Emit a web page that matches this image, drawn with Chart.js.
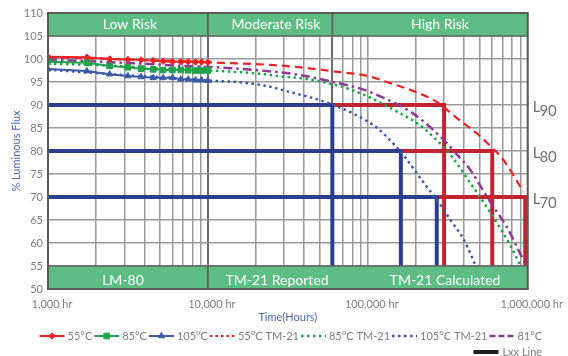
<!DOCTYPE html>
<html>
<head>
<meta charset="utf-8">
<script src="https://cdn.jsdelivr.net/npm/chart.js@4.4.1/dist/chart.umd.min.js"></script>
<style>
html,body{margin:0;padding:0;background:#fff;}
#wrap{width:568px;height:356px;}
</style>
</head>
<body>
<div id="wrap"><canvas id="c" width="568" height="356"></canvas></div>
<script>
// ---------- data ----------
const hoursLM = [1000, 1750, 2430, 3160, 3820, 4550, 5250, 6000, 6770, 7530, 8380, 9140, 10000];
const flux55  = [100.5, 100.4, 100.0, 99.9, 99.8, 99.7, 99.5, 99.4, 99.4, 99.4, 99.35, 99.35, 99.3];
const flux85  = [99.4, 99.2, 98.5, 98.2, 97.9, 97.75, 97.6, 97.6, 97.6, 97.55, 97.5, 97.5, 97.5];
const flux105 = [97.8, 97.4, 96.7, 96.3, 96.1, 95.9, 95.9, 95.9, 95.6, 95.6, 95.4, 95.4, 95.3];

const hours55TM = [1000, 3000, 10000, 30400, 65100, 100000, 139500, 204500, 272000, 362000, 482000, 612000, 690000, 940000];
const flux55TM  = [100.4, 99.9, 99.3, 98.5, 97.2, 96.3, 94.7, 92.7, 90.6, 87.1, 83.8, 80.4, 78.5, 71.2];

const hours85TM = [1000, 2400, 5000, 10000, 19800, 28900, 42400, 65100, 90800, 115400, 153600, 204500, 265500, 337000, 438000, 531000, 641000, 776000, 896000];
const flux85TM  = [99.0, 98.6, 97.9, 97.5, 96.9, 96.2, 95.6, 94.2, 92.5, 90.8, 88.5, 86.0, 82.6, 78.7, 73.0, 68.8, 64.4, 59.6, 55.2];

const hours105TM = [1000, 3000, 6000, 10000, 14900, 22800, 31900, 42400, 59200, 82600, 100000, 115400, 153600, 169000, 224800, 272000, 329000, 399000, 471000];
const flux105TM  = [97.7, 96.5, 95.9, 95.3, 95.0, 94.2, 92.9, 91.8, 90.2, 88.0, 86.4, 84.9, 80.6, 78.9, 73.0, 69.3, 65.0, 60.7, 55.2];

const hours81 = [1000, 4300, 6900, 11200, 19800, 35000, 68200, 93100, 121000, 185800, 285300, 379700, 438000, 531000, 641000, 740600, 854600, 961000];
const flux81  = [99.9, 98.9, 98.5, 98.2, 97.6, 96.7, 94.6, 93.4, 91.8, 88.5, 83.1, 78.4, 75.9, 71.2, 66.8, 63.5, 59.2, 55.6];

// Lxx boxes: level, hour where 105°C reaches it, hour where 55°C reaches it
const lxxLevels   = [90, 80, 70];
const lxxHours105 = [60000, 161000, 270000];
const lxxHours55  = [300000, 600000, 965000];
const lxxFloor = 55;

const xTickDecades = [1000, 10000, 100000, 1000000];
const xTickLabels  = ['1,000 hr', '10,000 hr', '100,000 hr', '1,000,000 hr'];
const yTicks = {min: 50, max: 110, step: 5};

const topBandLabels    = ['Low Risk', 'Moderate Risk', 'High Risk'];
const bottomBandLabels = ['LM-80', 'TM-21 Reported', 'TM-21 Calculated'];
const bandBounds = [10000, 60000];

// ---------- styles ----------
const RED = '#ec2227', GREEN = '#1fa34a', BLUE = '#3d5aa8', PURPLE = '#8b3a96';
const LBLUE = '#2b3d8f', LRED = '#c1232f';
const BAND = '#5dbd84';
const TXT = '#7d7d7d';
const TITLE_BLUE = '#4a69a9';
const FONT = 'Lato, "Open Sans", sans-serif';

const pts = (xs, ys) => xs.map((x, i) => ({x, y: ys[i]}));

const datasets = [
  {label: '55°C', data: pts(hoursLM, flux55), borderColor: RED, backgroundColor: RED, borderWidth: 2,
   pointStyle: 'rectRot', pointRadius: 3.2, pointBackgroundColor: RED, pointBorderColor: RED, pointBorderWidth: 1, inLegend: true},
  {label: '85°C', data: pts(hoursLM, flux85), borderColor: GREEN, backgroundColor: GREEN, borderWidth: 2,
   pointStyle: 'rect', pointRadius: 4, pointBackgroundColor: GREEN, pointBorderColor: GREEN, pointBorderWidth: 1, inLegend: true},
  {label: '105°C', data: pts(hoursLM, flux105), borderColor: BLUE, backgroundColor: BLUE, borderWidth: 2,
   pointStyle: 'triangle', pointRadius: 3.6, pointBackgroundColor: BLUE, pointBorderColor: BLUE, pointBorderWidth: 1, inLegend: true},
  {label: '55°C TM-21', data: pts(hours55TM, flux55TM), borderColor: RED, borderWidth: 2.2, borderDash: [8, 5],
   pointRadius: 0, cubicInterpolationMode: 'monotone', inLegend: true, legendDash: [2.5, 3]},
  {label: '85°C TM-21', data: pts(hours85TM, flux85TM), borderColor: GREEN, borderWidth: 2.5, borderDash: [2.5, 3.5],
   pointRadius: 0, cubicInterpolationMode: 'monotone', inLegend: true},
  {label: '105°C TM-21', data: pts(hours105TM, flux105TM), borderColor: BLUE, borderWidth: 2.5, borderDash: [2.5, 3.5],
   pointRadius: 0, cubicInterpolationMode: 'monotone', inLegend: true},
  {label: '81°C', data: pts(hours81, flux81), borderColor: PURPLE, borderWidth: 2.5, borderDash: [9, 4, 2.5, 4],
   pointRadius: 0, cubicInterpolationMode: 'monotone', inLegend: true, legendDash: [6, 3]},
];
// Lxx lines: blue ones above red ones
lxxLevels.forEach((lv, i) => {
  datasets.push({label: 'L' + lv + ' 105', data: [{x: 1000, y: lv}, {x: lxxHours105[i], y: lv}, {x: lxxHours105[i], y: lxxFloor}],
    borderColor: LBLUE, borderWidth: 4, pointRadius: 0, borderJoinStyle: 'miter', borderCapStyle: 'butt'});
});
lxxLevels.forEach((lv, i) => {
  datasets.push({label: 'L' + lv + ' 55', data: [{x: lxxHours105[i], y: lv}, {x: lxxHours55[i], y: lv}, {x: lxxHours55[i], y: lxxFloor}],
    borderColor: LRED, borderWidth: 4, pointRadius: 0, borderJoinStyle: 'miter', borderCapStyle: 'butt'});
});

// ---------- overlay plugin ----------
function hline(ctx, x1, x2, y) { ctx.beginPath(); ctx.moveTo(x1, y); ctx.lineTo(x2, y); ctx.stroke(); }
function vline(ctx, x, y1, y2) { ctx.beginPath(); ctx.moveTo(x, y1); ctx.lineTo(x, y2); ctx.stroke(); }

const overlay = {
  id: 'overlay',
  afterDatasetsDraw(chart) {
    const {ctx, chartArea: a, scales: {x, y}} = chart;
    ctx.save();
    const t1 = y.getPixelForValue(110), t2 = y.getPixelForValue(105);
    const b1 = y.getPixelForValue(55), b2 = y.getPixelForValue(50);
    ctx.fillStyle = BAND;
    ctx.fillRect(a.left, t1, a.right - a.left, t2 - t1);
    ctx.fillRect(a.left, b1, a.right - a.left, b2 - b1);
    ctx.strokeStyle = '#646464';
    ctx.lineWidth = 1.5;
    hline(ctx, a.left, a.right, t2);
    hline(ctx, a.left, a.right, b1);
    ctx.lineWidth = 2;
    bandBounds.forEach(h => vline(ctx, x.getPixelForValue(h), t1, t2));
    vline(ctx, x.getPixelForValue(bandBounds[0]), b1, b2);
    // band texts
    ctx.fillStyle = '#ffffff';
    ctx.font = '14px ' + FONT;
    ctx.textAlign = 'center';
    ctx.textBaseline = 'alphabetic';
    const topCx = [130, 276, 440], botCx = [123, 277, 445];
    topBandLabels.forEach((s, i) => ctx.fillText(s, topCx[i], t2 - 7.5));
    bottomBandLabels.forEach((s, i) => ctx.fillText(s, botCx[i], b2 - 4.5));
    // outer frame
    ctx.strokeStyle = '#5a5a5a';
    ctx.lineWidth = 2;
    ctx.strokeRect(a.left, a.top, a.right - a.left, a.bottom - a.top);
    ctx.restore();
  },
  afterDraw(chart) {
    const {ctx, chartArea: a, scales: {y}} = chart;
    ctx.save();
    // Lxx labels on the right
    ctx.fillStyle = '#707070';
    ctx.textAlign = 'left';
    ctx.textBaseline = 'alphabetic';
    lxxLevels.forEach(lv => {
      const py = y.getPixelForValue(lv);
      ctx.font = '15px ' + FONT;
      ctx.fillText('L', a.right + 5, py + 7);
      const w = ctx.measureText('L').width;
      ctx.fillText(String(lv), a.right + 5 + w - 1, py + 10.5);
    });
    // legend
    ctx.font = '11px ' + FONT;
    ctx.textBaseline = 'middle';
    const items = chart.data.datasets.filter(d => d.inLegend);
    const SYM = 25, G1 = 3, G2 = 2;
    let total = 0;
    items.forEach(d => { total += SYM + G1 + ctx.measureText(d.label).width + G2; });
    total -= G2;
    let xx = (a.left + a.right) / 2 + 3 - total / 2;
    const ly = 336;
    items.forEach(d => {
      ctx.save();
      ctx.strokeStyle = d.borderColor;
      ctx.lineWidth = d.borderWidth;
      ctx.setLineDash(d.legendDash || d.borderDash || []);
      hline(ctx, xx, xx + SYM, ly);
      ctx.setLineDash([]);
      if (d.pointStyle) {
        ctx.fillStyle = d.borderColor;
        ctx.strokeStyle = d.borderColor;
        ctx.lineWidth = 1;
        Chart.helpers.drawPoint(ctx, {pointStyle: d.pointStyle, radius: d.pointRadius, borderWidth: 1, rotation: 0}, xx + SYM / 2, ly);
      }
      ctx.restore();
      xx += SYM + G1;
      ctx.fillStyle = TXT;
      ctx.fillText(d.label, xx, ly);
      xx += ctx.measureText(d.label).width + G2;
    });
    const rowEnd = xx - G2;
    const lxxText = 'Lxx Line';
    const tw = ctx.measureText(lxxText).width;
    const ly2 = 352;
    ctx.fillStyle = TXT;
    ctx.fillText(lxxText, rowEnd - tw, ly2);
    ctx.fillStyle = '#1e1e1e';
    ctx.fillRect(rowEnd - tw - 4 - 25, ly2 - 2, 25, 4);
    ctx.restore();
  }
};

// ---------- chart ----------
const decadeSet = new Set(xTickDecades);
const allXTicks = [];
xTickDecades.forEach((d, i) => {
  if (i < xTickDecades.length - 1) { for (let k = 1; k <= 9; k++) allXTicks.push(d * k); }
  else allXTicks.push(d);
});

new Chart(document.getElementById('c'), {
  type: 'line',
  data: {datasets},
  plugins: [overlay],
  options: {
    responsive: false,
    animation: false,
    devicePixelRatio: 1,
    layout: {padding: {left: 0, right: 36, top: 13, bottom: 32}},
    plugins: {legend: {display: false}, tooltip: {enabled: false}},
    elements: {line: {tension: 0}},
    scales: {
      x: {
        type: 'logarithmic',
        min: xTickDecades[0],
        max: xTickDecades[xTickDecades.length - 1],
        afterBuildTicks: s => { s.ticks = allXTicks.map(v => ({value: v, major: decadeSet.has(v)})); },
        afterFit: s => { s.height = 35; },
        border: {display: false},
        grid: {
          drawTicks: false,
          color: c => (c.tick && (c.tick.value === 10000 || c.tick.value === 60000)) ? '#6a6a6a' : '#9a9a9a',
          lineWidth: c => (c.tick && (c.tick.value === 10000 || c.tick.value === 60000)) ? 2 : 1.5
        },
        ticks: {
          autoSkip: false, maxRotation: 0, minRotation: 0, padding: 9, labelOffset: 4,
          color: TXT, font: {family: FONT, size: 11},
          callback: v => { const i = xTickDecades.indexOf(v); return i >= 0 ? xTickLabels[i] : ''; }
        },
        title: {display: true, text: 'Time(Hours)', color: TITLE_BLUE, font: {family: FONT, size: 11}, padding: {top: 0, bottom: 0}}
      },
      y: {
        min: yTicks.min, max: yTicks.max,
        afterFit: s => { s.width = 48; },
        border: {display: false},
        grid: {drawTicks: false, color: '#9a9a9a', lineWidth: 1.5},
        ticks: {stepSize: yTicks.step, padding: 5, color: TXT, font: {family: FONT, size: 11}},
        title: {display: true, text: '% Luminous Flux', color: TITLE_BLUE, font: {family: FONT, size: 11}, padding: {top: 10, bottom: 0}}
      }
    }
  }
});
</script>
</body>
</html>
